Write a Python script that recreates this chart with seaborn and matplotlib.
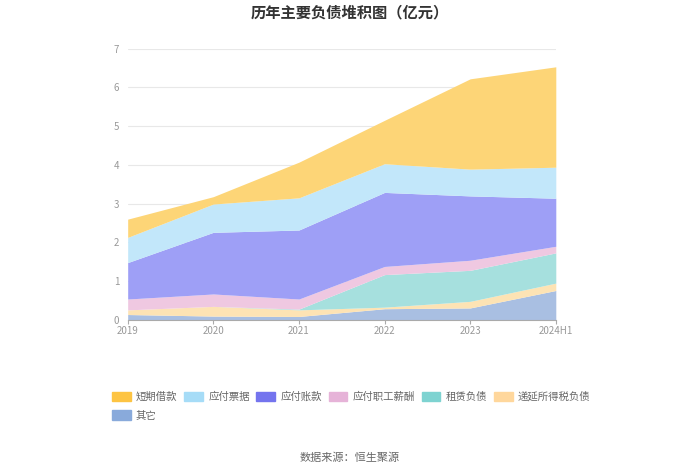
import numpy as np
import matplotlib
matplotlib.use("Agg")
import matplotlib.pyplot as plt
import matplotlib.patches as mpatches
import seaborn as sns

# Données (en milliards de yuans)
annees = ["2019", "2020", "2021", "2022", "2023", "2024H1"]
series = ["短期借款", "应付票据", "应付账款", "应付职工薪酬", "租赁负债", "递延所得税负债", "其它"]

qita = [0.14, 0.10, 0.09, 0.29, 0.31, 0.76]
diyan = [0.12, 0.25, 0.17, 0.04, 0.17, 0.19]
zulin = [0.00, 0.00, 0.02, 0.84, 0.80, 0.78]
zhigong = [0.28, 0.32, 0.26, 0.21, 0.26, 0.17]
zhangkuan = [0.94, 1.59, 1.78, 1.91, 1.66, 1.24]
piaoju = [0.65, 0.73, 0.83, 0.74, 0.69, 0.80]
duanqi = [0.47, 0.19, 0.92, 1.12, 2.33, 2.59]

# couleurs : légende (pleines) et remplissage (plus claires)
couleurs_leg = ["#FDC443", "#A6DCF7", "#7474EE", "#E6B3D8", "#7ED3D1", "#FFD79C", "#89AADB"]
couleurs_fill = ["#FDD577", "#C2E7FA", "#9E9FF6", "#EFC8E1", "#A6E0DE", "#FDE3B4", "#A9BFE2"]

sns.set_theme(style="white")
plt.rcParams['font.family'] = ['Noto Sans CJK SC', 'DejaVu Sans']

fig = plt.figure(figsize=(7, 4.74), dpi=100)
ax = fig.add_axes([0.1824, 0.325, 0.6116, 0.5725])

x = np.arange(len(annees))
# empilement du bas vers le haut
couches = [qita, diyan, zulin, zhigong, zhangkuan, piaoju, duanqi]
ax.stackplot(x, *couches, colors=couleurs_fill[::-1], linewidth=0)

ax.set_xlim(0, len(annees) - 1)
ax.set_ylim(0, 7)
ax.set_yticks(range(0, 8))
ax.set_xticks(x)
ax.set_xticklabels(annees)
ax.yaxis.grid(True, color="#E8E8E8", linewidth=0.8)
ax.set_axisbelow(True)
for s in ["top", "right", "left"]:
    ax.spines[s].set_visible(False)
ax.spines["bottom"].set_color("#AAAAAA")
ax.spines["bottom"].set_linewidth(0.8)
ax.tick_params(axis="x", colors="#999999", labelsize=7, length=3, width=0.8, pad=1, direction="out")
ax.tick_params(axis="y", colors="#999999", labelsize=7, length=0, pad=6)
ax.tick_params(axis="x", bottom=True, color="#AAAAAA")

fig.text(0.5, 0.974, "历年主要负债堆积图（亿元）", ha="center", va="center",
         fontsize=11, fontweight="bold", color="#333333")

# légende : 6 colonnes, 其它 seul sur la seconde ligne
handles = [mpatches.Patch(color=c) for c in couleurs_leg]
ordre = [0, 6, 1, 2, 3, 4, 5]
leg = fig.legend([handles[i] for i in ordre], [series[i] for i in ordre],
                 ncol=6, loc="upper left", bbox_to_anchor=(0.160, 0.174),
                 frameon=False, fontsize=7.5, handlelength=1.8, handleheight=1.05,
                 handletextpad=0.5, columnspacing=0.65, labelspacing=0.8,
                 borderaxespad=0, borderpad=0)
for t in leg.get_texts():
    t.set_color("#666666")

fig.text(0.5, 0.035, "数据来源：恒生聚源", ha="center", va="center",
         fontsize=8, color="#666666")

fig.savefig("out.png", dpi=100)
plt.close(fig)
